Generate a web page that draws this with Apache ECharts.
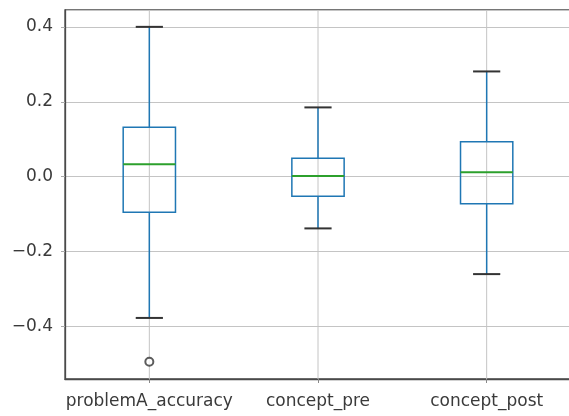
<!DOCTYPE html>
<html>
<head>
<meta charset="utf-8">
<script src="https://cdn.jsdelivr.net/npm/echarts@6/dist/echarts.min.js"></script>
<style>html,body{margin:0;padding:0;background:#fff}#c{width:569px;height:416px}</style>
</head>
<body>
<div id="c"></div>
<script>
var categories = ['problemA_accuracy', 'concept_pre', 'concept_post'];
var whiskerLow = [-0.377, -0.138, -0.260];
var q1 = [-0.095, -0.052, -0.072];
var median = [0.033, 0.002, 0.012];
var q3 = [0.132, 0.049, 0.093];
var whiskerHigh = [0.400, 0.185, 0.281];
var outlierCat = [0];
var outlierVal = [-0.494];
var yMin = -0.54, yMax = 0.445;

var boxData = categories.map(function (c, i) {
  return [i, whiskerLow[i], q1[i], median[i], q3[i], whiskerHigh[i]];
});
var outData = outlierCat.map(function (c, i) { return [c, outlierVal[i]]; });

function fmt(v) {
  var r = Math.round(v * 10) / 10;
  if (Math.abs(v - r) > 1e-6 || Math.abs(Math.round(v * 10) % 2) === 1) return '';
  var s = Math.abs(r).toFixed(1);
  return r < 0 ? '\u2212' + s : s;
}

var chart = echarts.init(document.getElementById('c'));
chart.setOption({
  animation: false,
  backgroundColor: '#fff',
  grid: { left: 65, width: 506, top: 10, bottom: 37, outerBoundsMode: 'none', containLabel: false, show: true, borderColor: '#4a4a4a', borderWidth: 1.3, backgroundColor: 'transparent' },
  xAxis: {
    type: 'category', data: categories, boundaryGap: true,
    axisLine: { show: true, onZero: false, lineStyle: { color: '#4a4a4a', width: 1.3 } },
    axisTick: { show: true, alignWithLabel: true, length: 4, lineStyle: { color: '#888' } },
    axisLabel: { margin: 14, interval: 0, hideOverlap: false, fontFamily: 'DejaVu Sans', fontSize: 17, color: '#3a3a3a' },
    splitLine: { show: false }
  },
  yAxis: {
    type: 'value', min: yMin, max: yMax, splitNumber: 5,
    axisLine: { show: true, lineStyle: { color: '#4a4a4a', width: 1.3 } },
    axisTick: { show: true, length: 4, lineStyle: { color: '#aaa' } },
    axisLabel: { margin: 12, fontFamily: 'DejaVu Sans', fontSize: 17, color: '#3a3a3a', formatter: fmt, showMinLabel: false, showMaxLabel: false },
    splitLine: { show: true, lineStyle: { color: '#c4c4c4', width: 1 } }
  },
  series: [
    {
      type: 'custom',
      data: boxData,
      encode: { x: 0, y: [1, 2, 3, 4, 5] },
      clip: false,
      renderItem: function (params, api) {
        var x = api.value(0);
        var band = api.size([1, 0])[0];
        var bw = band * 0.31;
        var cw = bw * 0.52;
        var pLo = api.coord([x, api.value(1)]);
        var pQ1 = api.coord([x, api.value(2)]);
        var pMed = api.coord([x, api.value(3)]);
        var pQ3 = api.coord([x, api.value(4)]);
        var pHi = api.coord([x, api.value(5)]);
        var pTop = api.coord([x, yMax]);
        var pBot = api.coord([x, yMin]);
        var cx = pMed[0];
        var blue = '#1f77b4';
        return {
          type: 'group',
          children: [
            { type: 'line', shape: { x1: cx, y1: pTop[1], x2: cx, y2: pBot[1] }, style: { stroke: '#c4c4c4', lineWidth: 1 } },
            { type: 'line', shape: { x1: cx, y1: pHi[1], x2: cx, y2: pQ3[1] }, style: { stroke: blue, lineWidth: 1.5 } },
            { type: 'line', shape: { x1: cx, y1: pQ1[1], x2: cx, y2: pLo[1] }, style: { stroke: blue, lineWidth: 1.5 } },
            { type: 'rect', shape: { x: cx - bw / 2, y: pQ3[1], width: bw, height: pQ1[1] - pQ3[1] }, style: { fill: 'none', stroke: blue, lineWidth: 1.5 } },
            { type: 'line', shape: { x1: cx - bw / 2, y1: pMed[1], x2: cx + bw / 2, y2: pMed[1] }, style: { stroke: '#2ca02c', lineWidth: 2 } },
            { type: 'line', shape: { x1: cx - cw / 2, y1: pHi[1], x2: cx + cw / 2, y2: pHi[1] }, style: { stroke: '#333', lineWidth: 2 } },
            { type: 'line', shape: { x1: cx - cw / 2, y1: pLo[1], x2: cx + cw / 2, y2: pLo[1] }, style: { stroke: '#333', lineWidth: 2 } }
          ]
        };
      }
    },
    {
      type: 'scatter',
      data: outData,
      symbol: 'emptyCircle',
      symbolSize: 8,
      itemStyle: { color: '#333', borderColor: '#333', borderWidth: 1.2 }
    }
  ]
});
</script>
</body>
</html>
